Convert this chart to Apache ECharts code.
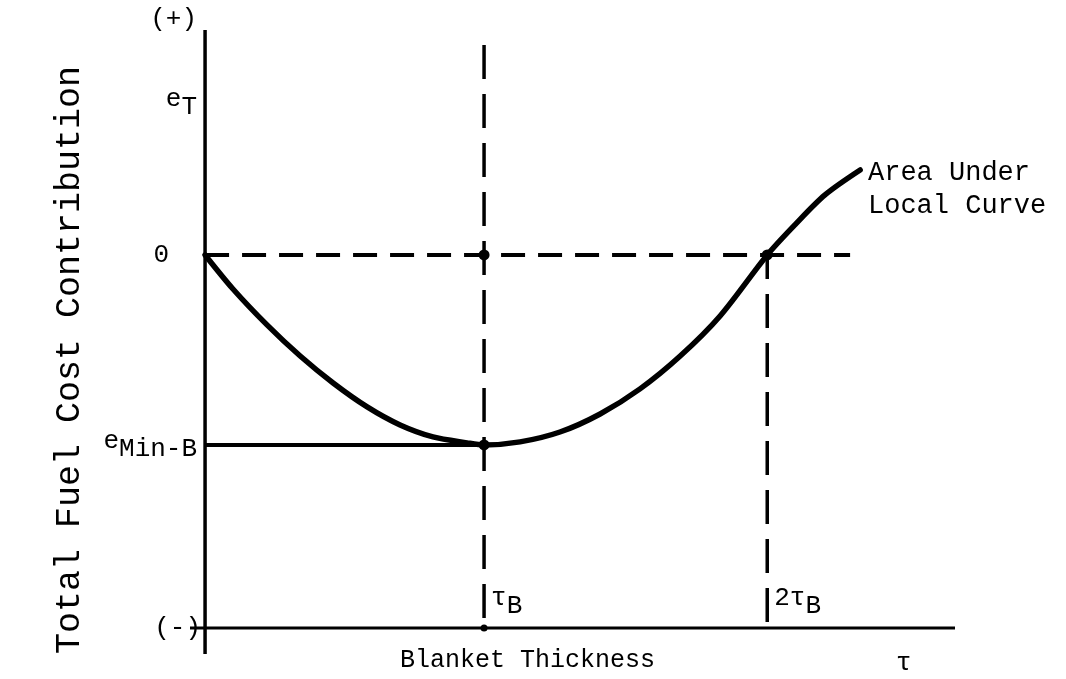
<!DOCTYPE html>
<html>
<head>
<meta charset="utf-8">
<script src="https://cdn.jsdelivr.net/npm/echarts@6/dist/echarts.min.js"></script>
<style>
html,body{margin:0;padding:0;background:#fff;}
#c{width:1066px;height:679px;}
</style>
</head>
<body>
<div id="c"></div>
<script>
// Units: tau in units of tau_B, e in units of |e_Min-B|
const curveX = [0, 0.100, 0.222, 0.341, 0.459, 0.581, 0.699, 0.817, 0.939, 1.0, 1.129, 1.272, 1.416, 1.559, 1.703, 1.846, 2.015, 2.115, 2.222, 2.348];
const curveY = [0, -0.179, -0.368, -0.532, -0.674, -0.800, -0.895, -0.958, -0.989, -1.0, -0.984, -0.932, -0.837, -0.705, -0.532, -0.321, 0, 0.160, 0.316, 0.447];
const tauB = 1.0;
const twoTauB = 2.015;
const eMin = -1.0;
const zeroLine = 0;
const axisBottom = -1.963;
const xExtent = [-0.054, 2.688];
const yExtent = [-2.132, 1.184];
const zeroDashEnd = 2.312;
const tauBDashTop = 1.105;
const yTickLabels = ['(+)', 'e_T', '0', 'e_Min-B', '(-)'];
const yTickValues = [1.24, 0.80, 0, -1.0, -1.963];
const xTickLabels = ['τ_B', '2τ_B'];
const xTickValues = [1.0, 2.015];
const xTitle = 'Blanket Thickness';
const yTitle = 'Total Fuel Cost Contribution';
const xSymbol = 'τ';
const curveNote = ['Area Under', 'Local Curve'];

const FONT = "'Courier New', 'Liberation Mono', 'DejaVu Sans Mono', monospace";
const F = 26;
const INK = '#000';
const rich = {
  m: {fontSize: F, fontFamily: FONT, color: INK, verticalAlign: 'top', lineHeight: 34},
  s: {fontSize: F, fontFamily: FONT, color: INK, verticalAlign: 'bottom', lineHeight: 34},
  p: {fontSize: F, fontFamily: FONT, color: INK, verticalAlign: 'middle', lineHeight: 34}
};
function fmt(t) {
  const i = t.indexOf('_');
  if (i < 0) return '{p|' + t + '}';
  return '{m|' + t.slice(0, i) + '}{s|' + t.slice(i + 1) + '}';
}

const chart = echarts.init(document.getElementById('c'));
const yLabelData = yTickLabels.map((t, i) => ({
  value: [0, yTickValues[i]],
  label: {formatter: fmt(t), distance: t === '0' ? 36 : (t === '(-)' ? 4 : 8)}
}));
const xLabelData = xTickLabels.map((t, i) => ({value: [xTickValues[i], axisBottom], label: {formatter: fmt(t)}}));

chart.setOption({
  animation: false,
  backgroundColor: '#fff',
  grid: {left: 190, right: 111, top: 30, bottom: 19},
  xAxis: {type: 'value', min: xExtent[0], max: xExtent[1], show: false},
  yAxis: {type: 'value', min: yExtent[0], max: yExtent[1], show: false},
  series: [
    {type: 'line', symbol: 'none', data: [[0, yExtent[1]], [0, -2.1]], lineStyle: {color: INK, width: 3.5}, z: 3},
    {type: 'line', symbol: 'none', data: [[xExtent[0], axisBottom], [xExtent[1], axisBottom]], lineStyle: {color: INK, width: 3}, z: 3},
    {type: 'line', symbol: 'none', data: [[0, zeroLine], [zeroDashEnd, zeroLine]], lineStyle: {color: INK, width: 4, type: [24, 13], dashOffset: 0}, z: 2},
    {type: 'line', symbol: 'none', data: [[tauB, tauBDashTop], [tauB, axisBottom]], lineStyle: {color: INK, width: 3.5, type: [34, 15]}, z: 2},
    {type: 'line', symbol: 'none', data: [[twoTauB, zeroLine], [twoTauB, axisBottom]], lineStyle: {color: INK, width: 3.5, type: [34, 15], dashOffset: 10}, z: 2},
    {type: 'line', symbol: 'none', data: [[0, eMin], [tauB, eMin]], lineStyle: {color: INK, width: 4}, z: 3},
    {type: 'line', symbol: 'none', smooth: 0.3, data: curveX.map((x, i) => [x, curveY[i]]), lineStyle: {color: INK, width: 5.5, cap: 'round'}, z: 4},
    {type: 'scatter', symbolSize: 11, itemStyle: {color: INK, opacity: 1}, data: [[tauB, zeroLine], [tauB, eMin], [twoTauB, zeroLine]], z: 5},
    {type: 'scatter', symbolSize: 7, itemStyle: {color: INK, opacity: 1}, data: [[tauB, axisBottom]], z: 5},
    {type: 'scatter', symbolSize: 0, clip: false, silent: true, itemStyle: {opacity: 1},
      label: {show: true, position: 'left', color: INK, textBorderWidth: 0, rich: rich},
      data: yLabelData, z: 6},
    {type: 'scatter', symbolSize: 0, clip: false, silent: true, itemStyle: {opacity: 1},
      label: {show: true, position: 'right', color: INK, textBorderWidth: 0, offset: [2, -26], rich: rich},
      data: xLabelData, z: 6}
  ],
  graphic: [
    {type: 'text', left: 400, top: 648, style: {text: xTitle, font: '25px ' + FONT, fill: INK}},
    {type: 'text', left: 896, top: 650, style: {text: xSymbol, font: F + 'px ' + FONT, fill: INK}},
    {type: 'text', left: 868, top: 156, style: {text: curveNote.join('\n'), font: '27px ' + FONT, fill: INK, lineHeight: 33}},
    {type: 'text', x: 70, y: 360, rotation: Math.PI / 2, style: {text: yTitle, font: '35px ' + FONT, fill: INK, align: 'center', verticalAlign: 'middle'}}
  ]
});
</script>
</body>
</html>
